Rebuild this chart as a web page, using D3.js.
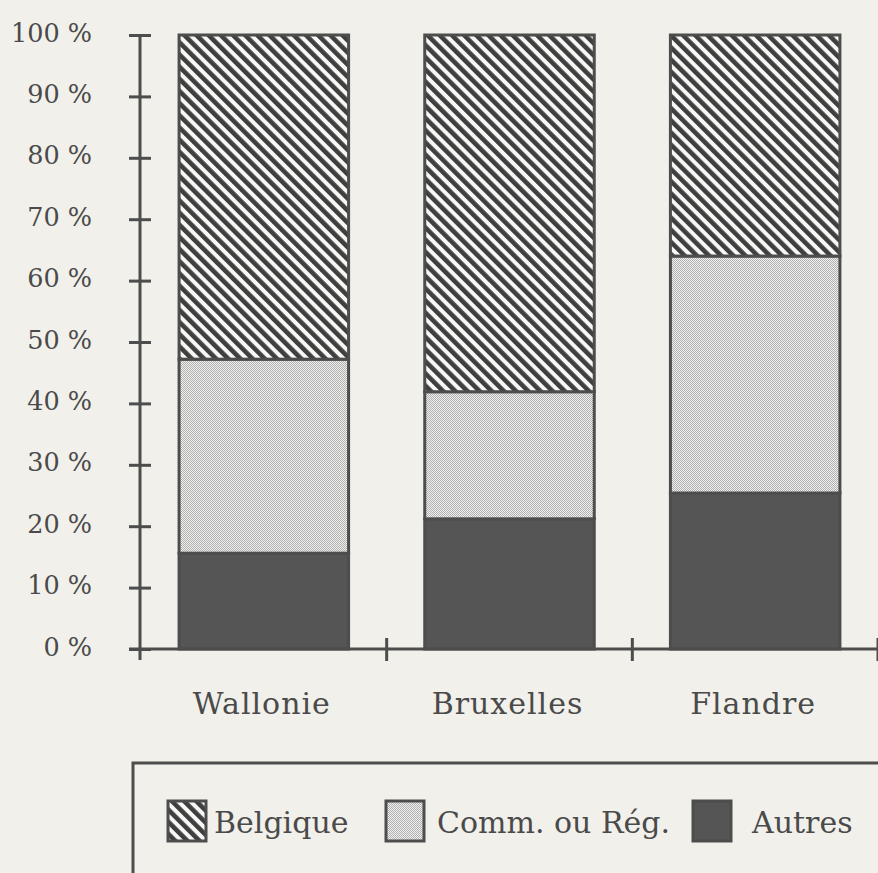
<!DOCTYPE html>
<html>
<head>
<meta charset="utf-8">
<script src="https://cdn.jsdelivr.net/npm/d3@7"></script>
<style>
  html, body { margin: 0; padding: 0; background: #f1f0eb; }
  svg { display: block; }
  text { font-family: "DejaVu Serif", "Liberation Serif", serif; fill: #4a4a4a; }
</style>
</head>
<body>
<svg id="chart"></svg>
<script>
/* data (percent of respondents) */
var categories = ["Wallonie", "Bruxelles", "Flandre"];
var autres   = [15.6, 21.2, 25.4];
var comm     = [31.6, 20.7, 38.6];
var belgique = [52.8, 58.1, 36.0];
var seriesKeys  = ["autres", "comm", "belgique"];           // stacking order, bottom to top
var legendKeys  = ["belgique", "comm", "autres"];
var legendNames = ["Belgique", "Comm. ou R\u00e9g.", "Autres"];
var yTickValues = [0, 10, 20, 30, 40, 50, 60, 70, 80, 90, 100];

var width = 878, height = 873,
    ink = "#4d4d4d";

var svg = d3.select("#chart")
    .attr("width", width)
    .attr("height", height);

/* hatch patterns */
var defs = svg.append("defs");

var hatch = defs.append("pattern")
    .attr("id", "hatch")
    .attr("patternUnits", "userSpaceOnUse")
    .attr("width", 8.6).attr("height", 8.6)
    .attr("patternTransform", "rotate(-45)");
hatch.append("rect").attr("width", 8.6).attr("height", 8.6).attr("fill", "#f7f7f5");
hatch.append("rect").attr("width", 4.6).attr("height", 8.6).attr("fill", "#3f3f3f");

var dots = defs.append("pattern")
    .attr("id", "dots")
    .attr("patternUnits", "userSpaceOnUse")
    .attr("width", 2).attr("height", 2);
dots.append("rect").attr("width", 2).attr("height", 2).attr("fill", "#f0f0ee");
dots.append("rect").attr("width", 1).attr("height", 1).attr("fill", "#b0b0b0");
dots.append("rect").attr("x", 1).attr("y", 1).attr("width", 1).attr("height", 1).attr("fill", "#b0b0b0");

var fills = { belgique: "url(#hatch)", comm: "url(#dots)", autres: "#555555" };

/* table built from the arrays */
var table = categories.map(function (c, i) {
    return { name: c, autres: autres[i], comm: comm[i], belgique: belgique[i] };
});

/* scales */
var xScale = d3.scaleBand()
    .domain(categories)
    .range([141, 878])
    .padding(0);

var yScale = d3.scaleLinear()
    .domain([0, 100])
    .range([649, 35]);

var barWidth = xScale.bandwidth() * 0.69;

/* bars */
var stacked = d3.stack().keys(seriesKeys)(table);

var layers = svg.append("g").attr("id", "bars")
  .selectAll("g")
  .data(stacked)
  .enter().append("g")
    .attr("fill", function (d) { return fills[d.key]; });

layers.selectAll("rect")
  .data(function (d) { return d; })
  .enter().append("rect")
    .attr("x", function (d) { return xScale(d.data.name) + (xScale.bandwidth() - barWidth) / 2; })
    .attr("y", function (d) { return yScale(d[1]); })
    .attr("width", barWidth)
    .attr("height", function (d) { return yScale(d[0]) - yScale(d[1]); })
    .attr("stroke", ink)
    .attr("stroke-width", 3);

/* y-axis */
var yAxis = d3.axisLeft(yScale)
    .tickValues(yTickValues)
    .tickSize(11)
    .tickFormat(function (d) { return d + " %"; });

var yAxisG = svg.append("g")
    .attr("class", "y-axis")
    .attr("transform", "translate(140,0)")
    .call(yAxis);
yAxisG.select(".domain").remove();
yAxisG.selectAll(".tick line")
    .attr("x1", -11).attr("x2", 11)
    .attr("stroke", ink).attr("stroke-width", 3);
yAxisG.selectAll(".tick text")
    .attr("x", -48)
    .attr("dy", "0.24em")
    .style("font-size", "25.5px")
    .attr("fill", ink);
yAxisG.append("line")
    .attr("x1", 0).attr("x2", 0)
    .attr("y1", yScale(100)).attr("y2", yScale(0) + 11)
    .attr("stroke", ink).attr("stroke-width", 3);

/* x-axis */
var xAxisG = svg.append("g").attr("class", "x-axis");
xAxisG.append("line")
    .attr("x1", 129).attr("x2", width)
    .attr("y1", yScale(0)).attr("y2", yScale(0))
    .attr("stroke", ink).attr("stroke-width", 3);
xAxisG.selectAll(".xtick")
  .data(categories)
  .enter().append("line")
    .attr("class", "xtick")
    .attr("x1", function (d) { return xScale(d) + xScale.bandwidth(); })
    .attr("x2", function (d) { return xScale(d) + xScale.bandwidth(); })
    .attr("y1", yScale(0) - 11).attr("y2", yScale(0) + 12)
    .attr("stroke", ink).attr("stroke-width", 3);
xAxisG.selectAll(".xlabel")
  .data(categories)
  .enter().append("text")
    .attr("class", "xlabel")
    .attr("x", function (d) { return xScale(d) + xScale.bandwidth() / 2 - 2; })
    .attr("y", 714)
    .attr("text-anchor", "middle")
    .style("font-size", "30px")
    .style("letter-spacing", "1px")
    .attr("fill", ink)
    .text(function (d) { return d; });

/* legend */
var legend = svg.append("g").attr("class", "legend");
legend.append("rect")
    .attr("x", 133).attr("y", 763)
    .attr("width", 780).attr("height", 140)
    .attr("fill", "none")
    .attr("stroke", ink).attr("stroke-width", 3);

var swatchX = [168, 386, 693],
    textX = [214, 437, 752];

var items = legend.selectAll(".item")
  .data(legendKeys)
  .enter().append("g")
    .attr("class", "item");
items.append("rect")
    .attr("x", function (d, i) { return swatchX[i]; })
    .attr("y", 801)
    .attr("width", 38).attr("height", 40)
    .attr("fill", function (d) { return fills[d]; })
    .attr("stroke", ink).attr("stroke-width", 3);
items.append("text")
    .attr("x", function (d, i) { return textX[i]; })
    .attr("y", 833)
    .style("font-size", "30px")
    .attr("fill", ink)
    .text(function (d, i) { return legendNames[i]; });
</script>
</body>
</html>
